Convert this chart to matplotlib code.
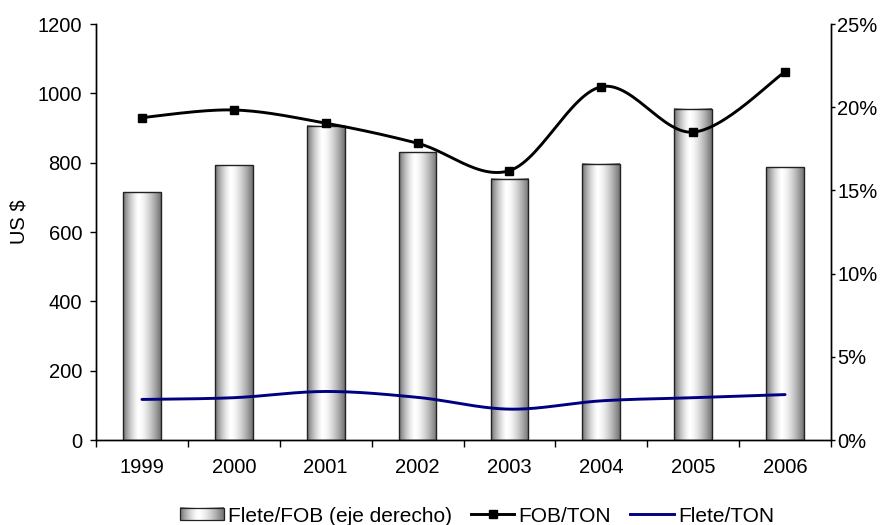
import numpy as np
import matplotlib
matplotlib.use("Agg")
import matplotlib.pyplot as plt
from matplotlib.patches import Rectangle
from matplotlib.lines import Line2D
from matplotlib.legend_handler import HandlerBase
from matplotlib.image import BboxImage
from matplotlib.transforms import Bbox, TransformedBbox
from matplotlib.ticker import FixedLocator, PercentFormatter

plt.rcParams['font.family'] = ['Liberation Sans', 'DejaVu Sans']
FS = 14.5
LEG_FS = 15

years = ['1999', '2000', '2001', '2002', '2003', '2004', '2005', '2006']
flete_fob_pct = [14.9, 16.5, 18.9, 17.3, 15.7, 16.6, 19.9, 16.4]
fob_ton = [930, 952, 914, 856, 777, 1019, 888, 1062]
flete_ton = [117, 122, 140, 123, 89, 113, 122, 131]


def smooth(xs, ys, n=30):
    """Catmull-Rom spline through the points (Excel-style smoothed line)."""
    xs = np.asarray(xs, float)
    ys = np.asarray(ys, float)
    px = np.concatenate([[xs[0]], xs, [xs[-1]]])
    py = np.concatenate([[ys[0]], ys, [ys[-1]]])
    ox, oy = [], []
    t = np.linspace(0, 1, n)
    for i in range(1, len(px) - 2):
        p0, p1, p2, p3 = (np.array([px[j], py[j]]) for j in (i - 1, i, i + 1, i + 2))
        c1 = p1 + (p2 - p0) / 6.0
        c2 = p2 - (p3 - p1) / 6.0
        b = ((1 - t) ** 3)[:, None] * p1 + (3 * (1 - t) ** 2 * t)[:, None] * c1 \
            + (3 * (1 - t) * t ** 2)[:, None] * c2 + (t ** 3)[:, None] * p2
        ox.extend(b[:, 0])
        oy.extend(b[:, 1])
    return np.array(ox), np.array(oy)


def gradient_row(n=64):
    t = np.linspace(0, 1, n)
    peak = 0.42
    d = np.where(t < peak, (peak - t) / peak, (t - peak) / (1 - peak))
    return 1.0 - 0.55 * d ** 1.5


GRAD = gradient_row()[None, :]


class GradientBarHandler(HandlerBase):
    def create_artists(self, legend, orig_handle, xdescent, ydescent,
                       width, height, fontsize, trans):
        w = width
        h = fontsize * 0.6
        y0 = -ydescent + (height - h) / 2
        bb = TransformedBbox(Bbox.from_bounds(-xdescent, y0, w, h), trans)
        img = BboxImage(bb, cmap='gray', norm=plt.Normalize(0, 1), interpolation='bilinear')
        img.set_data(GRAD)
        rect = Rectangle((-xdescent, y0), w, h, fc='none', ec='#222222', lw=0.9,
                         transform=trans)
        return [img, rect]


fig = plt.figure(figsize=(8.81, 5.25), dpi=100)
ax = fig.add_axes([96 / 881, 85 / 525, 735 / 881, 416 / 525])
ax2 = ax.twinx()

x = np.arange(len(years))
bar_w = 0.41

# bars on the right (percentage) axis, with a horizontal grey gradient
bars = ax2.bar(x, flete_fob_pct, width=bar_w, facecolor='none',
               edgecolor='#222222', linewidth=1.0, zorder=3)
for b in bars:
    x0, w, h = b.get_x(), b.get_width(), b.get_height()
    ax2.imshow(GRAD, cmap='gray', vmin=0, vmax=1, aspect='auto',
               extent=(x0, x0 + w, 0, h), interpolation='bilinear', zorder=2)

ax2.set_ylim(0, 25)
ax2.set_xlim(-0.5, len(years) - 0.5)
ax2.yaxis.set_major_locator(FixedLocator([0, 5, 10, 15, 20, 25]))
ax2.yaxis.set_major_formatter(PercentFormatter(decimals=0))

# lines on the left (US $) axis, drawn above the bars
ax.set_zorder(ax2.get_zorder() + 1)
ax.patch.set_visible(False)
sx, sy = smooth(x, fob_ton)
ax.plot(sx, sy, color='black', lw=2.1, solid_capstyle='round')
ax.plot(x, fob_ton, ls='none', marker='s', ms=6, color='black')
sx2, sy2 = smooth(x, flete_ton)
ax.plot(sx2, sy2, color='#000080', lw=2.1, solid_capstyle='round')

ax.set_ylim(0, 1200)
ax.set_xlim(-0.5, len(years) - 0.5)
ax.yaxis.set_major_locator(FixedLocator(range(0, 1201, 200)))
ax.set_ylabel('US $', fontsize=FS)
ax.yaxis.set_label_coords(-0.0925, 0.524)

ax.set_xticks(x)
ax.set_xticklabels(years)
ax.set_xticks(np.arange(-0.5, len(years) + 0.5, 1), minor=True)

for a in (ax, ax2):
    a.spines['top'].set_visible(False)
    for s in a.spines.values():
        s.set_linewidth(1.0)
        s.set_color('black')

ax.tick_params(axis='x', which='major', length=0, pad=13, labelsize=FS)
ax.tick_params(axis='x', which='minor', length=5, width=1, direction='out')
ax.tick_params(axis='y', which='major', length=4, width=1, direction='out', pad=6,
               labelsize=FS, right=False)
ax2.tick_params(axis='y', which='major', length=3, width=1, direction='out', pad=1.5,
                labelsize=FS)
ax2.tick_params(axis='x', which='both', length=0, labelbottom=False)

handles = [
    Rectangle((0, 0), 1, 1),
    Line2D([], [], color='black', lw=2.1, marker='s', ms=6),
    Line2D([], [], color='#000080', lw=2.1),
]
labels = ['Flete/FOB (eje derecho)', 'FOB/TON', 'Flete/TON']
fig.legend(handles, labels, loc='center', bbox_to_anchor=(477 / 881, 1 - 516 / 525),
           ncol=3, frameon=False, fontsize=LEG_FS, handlelength=2.1, handletextpad=0.2,
           columnspacing=0.9, borderpad=0, handler_map={Rectangle: GradientBarHandler()})

fig.savefig('out.png', dpi=100)
